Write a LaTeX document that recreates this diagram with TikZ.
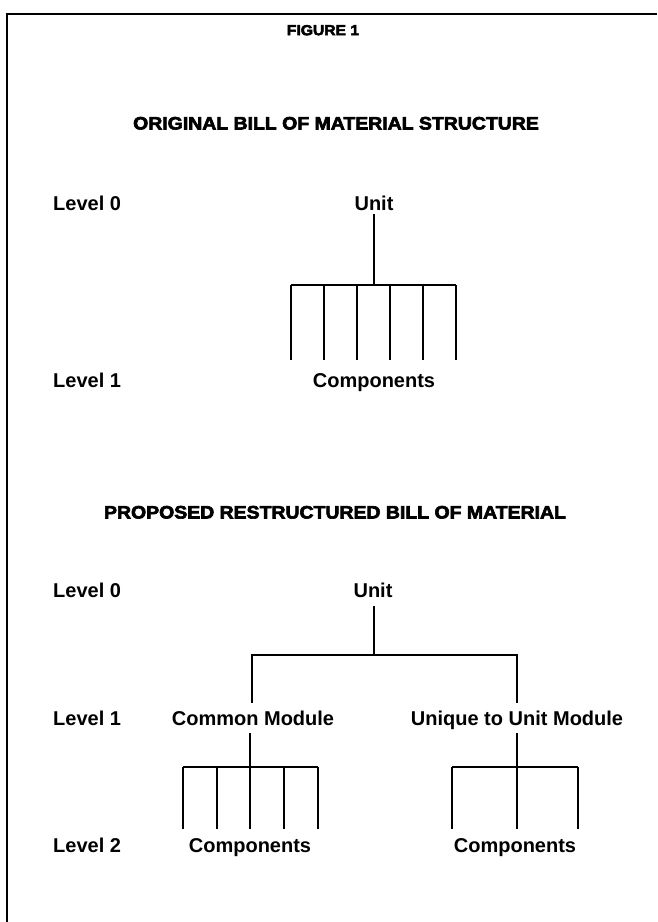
\documentclass[tikz,border=0pt]{standalone}
\usepackage{fontspec}
\usetikzlibrary{calc}
\setmainfont{Liberation Sans}
\newfontfamily\heavy[FakeBold=3.5,FakeStretch=1.08]{Liberation Sans Bold}
\begin{document}
\begin{tikzpicture}[x=1pt,y=-1pt,
  lbl/.style={font=\fontsize{20}{24}\selectfont\bfseries, inner sep=0pt, text height=14pt, text depth=0pt},
  ttl/.style={font=\heavy\fontsize{18}{22}\selectfont, inner sep=0pt, text height=13pt, text depth=0pt},
  wire/.style={line width=2.3pt},
  thinwire/.style={line width=1.8pt},
  frame/.style={line width=2.3pt}]
\useasboundingbox (0,0) rectangle (657,922);
% frame
\coordinate (fb) at (7,922);
\coordinate (ftl) at (7,14);
\coordinate (ftr) at (657,14);
\draw[frame] (fb) -- (ftl) -- (ftr);
% titles
\node[ttl, font=\heavy\fontsize{14.5}{17}\selectfont, text height=10.4pt] (fig) at (323,30) {FIGURE 1};
\node[ttl] (t1) at (336,123) {ORIGINAL BILL OF MATERIAL STRUCTURE};
\node[ttl] (t2) at (335,512) {PROPOSED RESTRUCTURED BILL OF MATERIAL};
% upper tree
\node[lbl, anchor=west] (l0a) at (53,203) {Level 0};
\node[lbl] (u1) at (374,203) {Unit};
\node[lbl, anchor=west] (l1a) at (53,380) {Level 1};
\node[lbl] (c1) at (374,380) {Components};
\coordinate (u1j) at (374,285);
\draw[wire] ($(u1.south)+(0,4)$) -- (u1j);
\coordinate (ubl) at (291,285);
\coordinate (ubr) at (456,285);
\draw[wire] (ubl) -- (ubr);
\foreach \i/\x in {1/291,2/324,3/357,4/390,5/423,6/456}{
  \coordinate (ut\i) at (\x,285);
  \coordinate (ub\i) at (\x,360);
  \draw[wire] (ut\i) -- (ub\i);
}
% lower tree
\node[lbl, anchor=west] (l0b) at (53,590) {Level 0};
\node[lbl] (u2) at (373,590) {Unit};
\node[lbl, anchor=west] (l1b) at (53,718) {Level 1};
\node[lbl] (cm) at (253,718) {Common Module};
\node[lbl] (um) at (517,718) {Unique to Unit Module};
\node[lbl, anchor=west] (l2) at (53,845) {Level 2};
\node[lbl] (c2) at (250,845) {Components};
\node[lbl] (c3) at (515,845) {Components};
\coordinate (u2j) at (374,655);
\coordinate (bl) at (252,655);
\coordinate (br) at (517,655);
\draw[thinwire] ($(u2.south)+(1,9)$) -- (u2j);
\draw[thinwire] ($(cm.north -| bl)+(0,-8)$) -- (bl) -- (br) -- ($(um.north)+(0,-8)$);
% common module components
\coordinate (cmj) at (250,767);
\draw[thinwire] ($(cm.south)+(-3,8)$) -- (cmj);
\coordinate (cl) at (183,767);
\coordinate (cr) at (318,767);
\draw[thinwire] (cl) -- (cr);
\foreach \i/\x in {1/183,2/217,3/250,4/284,5/318}{
  \coordinate (ct\i) at (\x,767);
  \coordinate (cb\i) at (\x,829);
  \draw[thinwire] (ct\i) -- (cb\i);
}
% unique module components
\coordinate (umj) at (517,767);
\draw[thinwire] ($(um.south)+(0,8)$) -- (umj);
\coordinate (ql) at (452,767);
\coordinate (qr) at (578,767);
\draw[thinwire] (ql) -- (qr);
\foreach \i/\x in {1/452,2/517,3/578}{
  \coordinate (qt\i) at (\x,767);
  \coordinate (qb\i) at (\x,829);
  \draw[thinwire] (qt\i) -- (qb\i);
}
\end{tikzpicture}
\end{document}
